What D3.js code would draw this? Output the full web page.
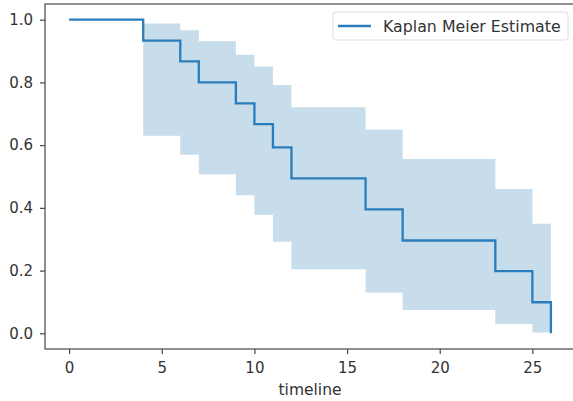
<!DOCTYPE html>
<html>
<head>
<meta charset="utf-8">
<script src="https://cdn.jsdelivr.net/npm/d3@7"></script>
<style>
  html, body { margin: 0; padding: 0; background: #fff; }
  svg { display: block; font-family: "DejaVu Sans", sans-serif; }
</style>
</head>
<body>
<svg id="chart" width="573" height="401"></svg>
<script>
// event times and estimate
const times = [0, 4, 6, 7, 9, 10, 11, 12, 16, 18, 23, 25, 26]
const survival = [1, 0.933, 0.867, 0.8, 0.733, 0.667, 0.593, 0.494, 0.395, 0.296, 0.198, 0.099, 0]
const ciUpper = [1, 0.988, 0.966, 0.931, 0.888, 0.851, 0.792, 0.721, 0.649, 0.556, 0.46, 0.349]
const ciLower = [1, 0.63, 0.569, 0.507, 0.44, 0.378, 0.292, 0.204, 0.13, 0.074, 0.03, 0.003]
const xTicks = [0, 5, 10, 15, 20, 25]
const yTicks = [0, 0.2, 0.4, 0.6, 0.8, 1.0]
const seriesLabel = "Kaplan Meier Estimate"
const xLabel = "timeline"

const width = 573, height = 401
const plot = { left: 45, right: 575, top: 4, bottom: 349 }
const blue = "#2a7dba"
const ink = "#333"

const svg = d3.select("#chart")

const x = d3.scaleLinear().domain([-1.3, 27.3]).range([plot.left, plot.right])
const y = d3.scaleLinear().domain([-0.05, 1.05]).range([plot.bottom, plot.top])

// confidence band (ends at the last event time)
const band = ciUpper.map((hi, i) => ({ t: times[i], lo: ciLower[i], hi }))
band.push({ t: times[times.length - 1], lo: ciLower[ciLower.length - 1], hi: ciUpper[ciUpper.length - 1] })

svg.append("path")
    .datum(band)
    .attr("fill", "#1f77b4")
    .attr("fill-opacity", 0.25)
    .attr("d", d3.area()
        .curve(d3.curveStepAfter)
        .x(d => x(d.t))
        .y0(d => y(d.lo))
        .y1(d => y(d.hi)))

// estimate line
svg.append("path")
    .datum(times.map((t, i) => [t, survival[i]]))
    .attr("fill", "none")
    .attr("stroke", blue)
    .attr("stroke-width", 2.3)
    .attr("d", d3.line()
        .curve(d3.curveStepAfter)
        .x(d => x(d[0]))
        .y(d => y(d[1])))

// axes
const xAxis = svg.append("g")
    .attr("transform", `translate(0,${plot.bottom})`)
    .call(d3.axisBottom(x).tickValues(xTicks).tickFormat(d3.format("d")).tickSize(5).tickPadding(8))
const yAxis = svg.append("g")
    .attr("transform", `translate(${plot.left},0)`)
    .call(d3.axisLeft(y).tickValues(yTicks).tickFormat(d3.format(".1f")).tickSize(5).tickPadding(7))

;[xAxis, yAxis].forEach(g => {
    g.select(".domain").remove()
    g.selectAll(".tick line").attr("stroke", "#444").attr("stroke-width", 1.2)
    g.selectAll(".tick text").attr("fill", ink).attr("font-size", 15)
        .attr("font-family", "DejaVu Sans, sans-serif")
})

// spines
svg.append("rect")
    .attr("x", plot.left).attr("y", plot.top)
    .attr("width", plot.right - plot.left).attr("height", plot.bottom - plot.top)
    .attr("fill", "none").attr("stroke", "#555").attr("stroke-width", 1.3)

svg.append("text")
    .attr("x", x(13)).attr("y", 395)
    .attr("text-anchor", "middle")
    .attr("font-size", 15.5).attr("fill", ink)
    .text(xLabel)

// legend
const legend = svg.append("g").attr("transform", "translate(333,12)")
legend.append("rect")
    .attr("width", 235).attr("height", 28).attr("rx", 3)
    .attr("fill", "#fff").attr("fill-opacity", 0.8)
    .attr("stroke", "#ddd")
legend.append("line")
    .attr("x1", 5).attr("x2", 38).attr("y1", 14).attr("y2", 14)
    .attr("stroke", blue).attr("stroke-width", 2.3)
legend.append("text")
    .attr("x", 50).attr("y", 19.5)
    .attr("font-size", 15.8).attr("fill", ink)
    .text(seriesLabel)
</script>
</body>
</html>
